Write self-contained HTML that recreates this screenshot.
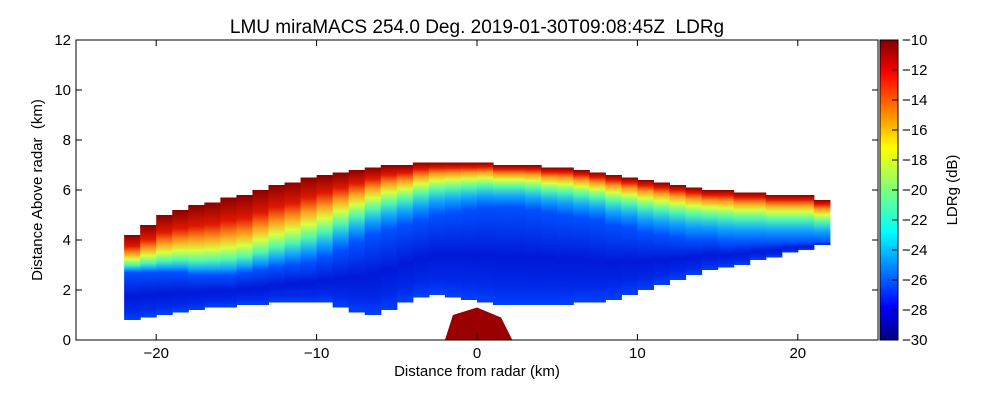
<!DOCTYPE html>
<html><head><meta charset="utf-8"><style>
body{margin:0;background:#fff;width:1000px;height:400px;overflow:hidden;font-family:"Liberation Sans",sans-serif}
</style></head><body>
<svg id="chart" width="1000" height="400" xmlns="http://www.w3.org/2000/svg" font-family="Liberation Sans, sans-serif">
<defs>
<linearGradient id="cbar" x1="0" y1="1" x2="0" y2="0">
<stop offset="0" stop-color="#00007f"/><stop offset="0.11" stop-color="#0000ff"/><stop offset="0.36" stop-color="#00ffff"/><stop offset="0.5" stop-color="#7dff7a"/><stop offset="0.64" stop-color="#ffff00"/><stop offset="0.89" stop-color="#ff0000"/><stop offset="1" stop-color="#7f0000"/>
</linearGradient>
</defs>
<text x="477" y="33" font-size="19" text-anchor="middle" xml:space="preserve">LMU miraMACS 254.0 Deg. 2019-01-30T09:08:45Z  LDRg</text>
<g id="plot"></g>
<rect x="76" y="40" width="802" height="300" fill="none" stroke="#000" stroke-width="1"/>
<g id="axes"></g>
<text x="477" y="376" font-size="15" text-anchor="middle">Distance from radar (km)</text>
<text transform="translate(42,190) rotate(-90)" font-size="15" text-anchor="middle" xml:space="preserve">Distance Above radar  (km)</text>
<rect x="880" y="40" width="18" height="300" fill="url(#cbar)" stroke="#000"/>
<g id="cb"></g>
<text transform="translate(957,190) rotate(-90)" font-size="15" text-anchor="middle">LDRg (dB)</text>
</svg>
<script>
const xsKm=[-22,-21,-20,-19,-18,-17,-16,-15,-14,-13,-12,-11,-10,-9,-8,-7,-6,-5,-4,-3,-2,-1,0,1,2,3,4,5,6,7,8,9,10,11,12,13,14,15,16,17,18,19,20,21];
const echoTop=[4.2,4.6,5.0,5.2,5.4,5.5,5.7,5.8,6.0,6.2,6.3,6.5,6.6,6.7,6.8,6.9,7.0,7.0,7.1,7.1,7.1,7.1,7.1,7.0,7.0,7.0,6.9,6.9,6.8,6.7,6.6,6.5,6.4,6.3,6.2,6.1,6.0,6.0,5.9,5.9,5.8,5.8,5.8,5.6];
const echoBottom=[0.8,0.9,1.0,1.1,1.2,1.3,1.3,1.4,1.4,1.5,1.5,1.5,1.5,1.3,1.1,1.0,1.2,1.5,1.7,1.8,1.7,1.6,1.5,1.4,1.4,1.4,1.4,1.4,1.5,1.5,1.6,1.8,2.0,2.2,2.4,2.6,2.8,2.9,3.0,3.2,3.3,3.5,3.6,3.8];
const coreTop=[2.7,2.7,2.7,2.7,2.6,2.6,2.6,2.7,2.8,2.9,3.0,3.1,3.3,3.6,3.9,4.2,4.4,4.6,4.8,5.0,5.1,5.2,5.3,5.3,5.3,5.2,5.1,5.0,4.9,4.8,4.6,4.5,4.3,4.2,4.1,4.0,4.0,3.9,3.9,3.9,3.9,3.9,3.9,3.9];
const xTicks=[-20,-10,0,10,20];
const yTicks=[0,2,4,6,8,10,12];
const cbTicks=[-10,-12,-14,-16,-18,-20,-22,-24,-26,-28,-30];
const NS='http://www.w3.org/2000/svg';
const X=k=>477+k*16.04, Y=k=>340-k*25, CB=v=>40+(-10-v)*15;
const svg=document.getElementById('chart'),defs=svg.querySelector('defs'),plot=document.getElementById('plot'),axes=document.getElementById('axes'),cb=document.getElementById('cb');
function mk(t,a,p){const e=document.createElementNS(NS,t);for(const k in a)e.setAttribute(k,a[k]);p.appendChild(e);return e;}
const bandCols=['#8a0000','#e01800','#ffa020','#d8ff40','#50f8b0','#10a0ff','#0050ff'];
const leftOff=[0,0.3,0.5,0.65,0.8,0.92,1], rightOff=[0,0.1,0.22,0.35,0.52,0.75,1];
xsKm.forEach((x,i)=>{
 const t=echoTop[i],b=echoBottom[i],c=coreTop[i],f=(t-c)/(t-b);
 const w=Math.max(0,Math.min(1,(-3-x)/12));
 const g=mk('linearGradient',{id:'g'+i,x1:0,y1:0,x2:0,y2:1},defs);
 bandCols.forEach((col,k)=>mk('stop',{offset:f*(w*leftOff[k]+(1-w)*rightOff[k]),'stop-color':col},g));
 [[Math.min(1,f+(1-f)*0.5),'#0018d8'],[Math.min(1,f+(1-f)*0.8),'#0028e8'],[1,'#0040ff']].forEach(s=>mk('stop',{offset:s[0],'stop-color':s[1]},g));
 const r=mk('rect',{x:X(x),y:Y(t),width:16.6,height:Y(b)-Y(t),fill:'url(#g'+i+')'},plot);
 
 
});
const blob=mk('path',{d:`M${X(-2)} ${Y(0)} L${X(-1.5)} ${Y(1.0)} L${X(0)} ${Y(1.3)} L${X(1.5)} ${Y(0.9)} L${X(2.2)} ${Y(0)} Z`,fill:'#9a0000'},plot);


xTicks.forEach(v=>{
 mk('line',{x1:X(v),x2:X(v),y1:340,y2:334,stroke:'#000'},axes);
 mk('line',{x1:X(v),x2:X(v),y1:40,y2:46,stroke:'#000'},axes);
 const t=mk('text',{x:X(v),y:358,'font-size':15,'text-anchor':'middle'},axes);t.textContent=v<0?'\u2212'+(-v):v;
 
 
});
yTicks.forEach(v=>{
 mk('line',{x1:76,x2:82,y1:Y(v),y2:Y(v),stroke:'#000'},axes);
 mk('line',{x1:872,x2:878,y1:Y(v),y2:Y(v),stroke:'#000'},axes);
 const t=mk('text',{x:71,y:Y(v)+5,'font-size':15,'text-anchor':'end'},axes);t.textContent=v;
 
 
});
cbTicks.forEach(v=>{
 mk('line',{x1:892,x2:898,y1:CB(v),y2:CB(v),stroke:'#000'},cb);
 const t=mk('text',{x:902,y:CB(v)+5,'font-size':15},cb);t.textContent='\u2212'+(-v);
 
 
});
</script>
</body></html>
